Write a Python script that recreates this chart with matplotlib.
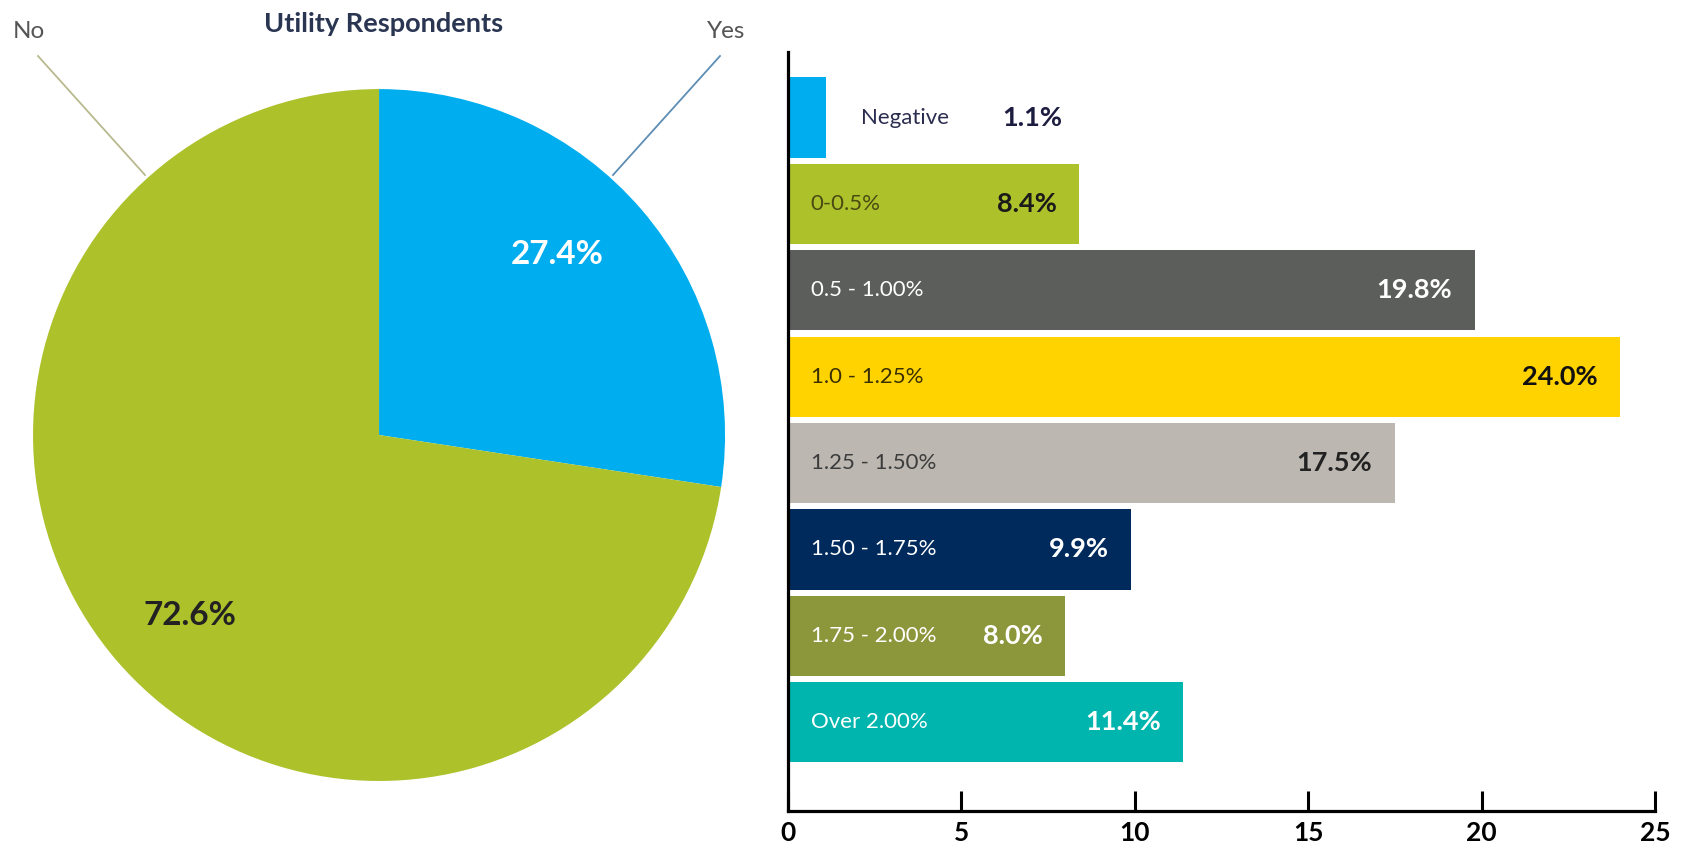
import matplotlib.pyplot as plt

# pie data
pie_labels = ['Yes', 'No']
pie_values = [27.4, 72.6]
pie_colors = ['#00AEEF', '#ADC12B']

# bar data
bar_labels = ['Negative', '0-0.5%', '0.5 - 1.00%', '1.0 - 1.25%', '1.25 - 1.50%',
              '1.50 - 1.75%', '1.75 - 2.00%', 'Over 2.00%']
bar_values = [1.1, 8.4, 19.8, 24.0, 17.5, 9.9, 8.0, 11.4]
bar_colors = ['#00AEEF', '#ADC12B', '#5C5E5B', '#FFD300', '#BCB8B1',
              '#002A5C', '#8C973C', '#00B5AD']
cat_text_colors = ['#2b2d4f', '#4a4a12', 'white', '#3a3000', '#3c3c3c',
                   'white', 'white', 'white']
val_text_colors = ['#1c1c40', '#1a1a1a', 'white', '#111111', '#222222',
                   'white', 'white', 'white']

plt.rcParams['font.family'] = ['Lato', 'DejaVu Sans']

fig = plt.figure(figsize=(16.85, 8.5), dpi=100)

# ---- pie ----
ax1 = fig.add_axes([0.0196, 0.0812, 0.4107, 0.814])
wedges, texts, autotexts = ax1.pie(pie_values, colors=pie_colors, startangle=90,
                                   counterclock=False, radius=1,
                                   autopct='%.1f%%', pctdistance=0.76,
                                   textprops=dict(fontsize=24, fontweight='bold'))
autotexts[0].set_color('white')
autotexts[0].set_position((0.516, 0.522))
autotexts[1].set_color('#222222')
autotexts[1].set_position((-0.547, -0.522))
ax1.set_xlim(-1, 1)
ax1.set_ylim(-1, 1)
ax1.set_aspect('auto')
ax1.axis('off')

fig.text(384 / 1685, 1 - 24 / 850, 'Utility Respondents', ha='center', va='center',
         fontsize=19.5, fontweight='bold', color='#2a3552')
fig.text(29 / 1685, 1 - 32 / 850, 'No', ha='center', va='center', fontsize=17.5, color='#555555')
fig.text(726 / 1685, 1 - 32 / 850, 'Yes', ha='center', va='center', fontsize=17.5, color='#555555')
fig.add_artist(plt.Line2D([38 / 1685, 145 / 1685], [1 - 56 / 850, 1 - 175 / 850],
                          color='#b9b98e', lw=1.3, transform=fig.transFigure))
fig.add_artist(plt.Line2D([720 / 1685, 613 / 1685], [1 - 56 / 850, 1 - 175 / 850],
                          color='#5d8db3', lw=1.3, transform=fig.transFigure))

# ---- bars ----
ax2 = fig.add_axes([0.4677, 0.0459, 0.5145, 0.8929])
y = list(range(len(bar_values)))
ax2.barh(y, bar_values, height=0.93, color=bar_colors)
ax2.set_xlim(0, 25)
ax2.set_ylim(8.03, -0.76)
ax2.set_yticks([])
ax2.set_xticks([0, 5, 10, 15, 20, 25])
ax2.tick_params(axis='x', direction='in', length=14.5, width=2.2, pad=7,
                labelsize=19, colors='black')
for lab in ax2.get_xticklabels():
    lab.set_fontweight('bold')
for s in ['top', 'right']:
    ax2.spines[s].set_visible(False)
for s in ['left', 'bottom']:
    ax2.spines[s].set_linewidth(2.3)
    ax2.spines[s].set_color('black')

for i, (lab, v) in enumerate(zip(bar_labels, bar_values)):
    lx = 2.1 if i == 0 else 0.65
    ax2.text(lx, i, lab, ha='left', va='center', fontsize=16, color=cat_text_colors[i])
    vx = 7.9 if i == 0 else v - 0.65
    ax2.text(vx, i, '%.1f%%' % v, ha='right', va='center', fontsize=19.5,
             fontweight='bold', color=val_text_colors[i])

plt.savefig('out.png', dpi=100)
